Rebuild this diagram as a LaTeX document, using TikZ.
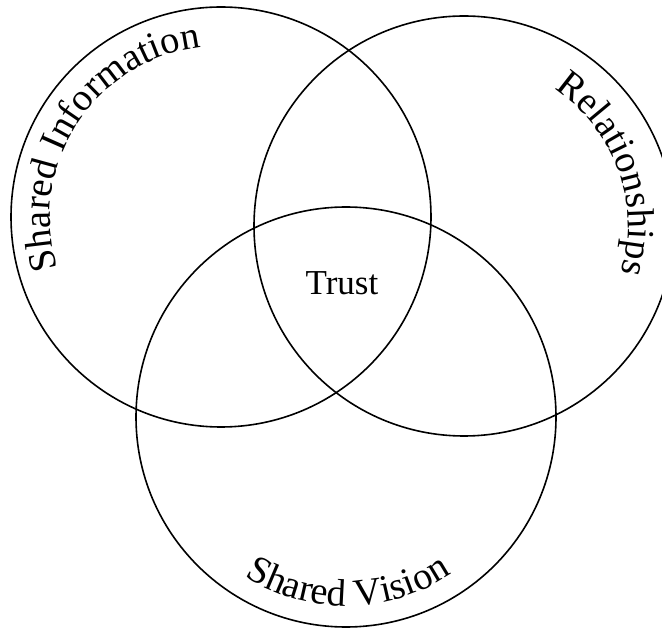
\documentclass[tikz,border=0pt]{standalone}
\usepackage{fontspec}
\setmainfont{Liberation Serif}
\usetikzlibrary{decorations.text}
\newcommand\curvefont{\fontsize{38.5}{46}\selectfont}
\begin{document}
\begin{tikzpicture}[x=1pt,y=1pt,
  setcircle/.style={circle,draw=black,line width=1.6pt,minimum size=420pt,inner sep=0pt},
  curvelabel/.style={decorate,decoration={text along path,text align=center,
     text={|\curvefont|#1}}}]
\useasboundingbox (0,0) rectangle (662,-628);
\node[setcircle] (info) at (221,-217) {};
\node[setcircle] (rel) at (464,-226) {};
\node[setcircle] (vision) at (346,-417) {};
\node[font=\fontsize{35}{42}\selectfont,anchor=base] (trust) at (342,-295) {Trust};
\path[curvelabel={Shared Information}] (info.center) ++(217:171) arc[start angle=217,end angle=77,radius=171];
\path[curvelabel={Relationships}] (rel.center) ++(80:164) arc[start angle=80,end angle=-40,radius=164];
\path[curvelabel={Shared Vision}] (vision.center) ++(-139.2:189) arc[start angle=-139.2,end angle=-39.2,radius=189];
\end{tikzpicture}
\end{document}
